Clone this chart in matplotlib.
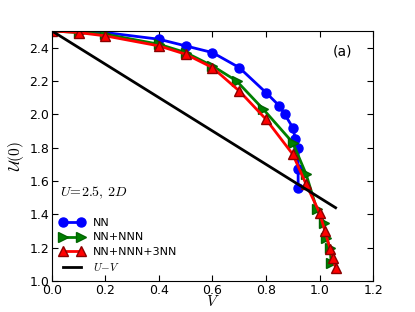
import numpy as np
import matplotlib
matplotlib.use("Agg")
import matplotlib.pyplot as plt

plt.rcParams['mathtext.fontset'] = 'cm'
plt.rcParams['xtick.direction'] = 'in'
plt.rcParams['ytick.direction'] = 'in'
plt.rcParams['xtick.top'] = True
plt.rcParams['ytick.right'] = True

# NN
v_nn = [0.0, 0.1, 0.2, 0.4, 0.5, 0.6, 0.7, 0.8, 0.85, 0.87, 0.90, 0.91, 0.92, 0.92, 0.92]
u_nn = [2.5, 2.5, 2.49, 2.45, 2.41, 2.37, 2.28, 2.13, 2.05, 2.0, 1.92, 1.85, 1.80, 1.67, 1.56]

# NN+NNN
v_nnn = [0.0, 0.1, 0.2, 0.4, 0.5, 0.6, 0.69, 0.79, 0.90, 0.95, 0.99, 1.017, 1.024, 1.04, 1.043]
u_nnn = [2.5, 2.49, 2.48, 2.42, 2.37, 2.29, 2.2, 2.03, 1.83, 1.64, 1.43, 1.35, 1.26, 1.20, 1.11]

# NN+NNN+3NN
v_3nn = [0.0, 0.1, 0.2, 0.4, 0.5, 0.6, 0.7, 0.8, 0.9, 0.95, 1.0, 1.02, 1.04, 1.05, 1.06]
u_3nn = [2.5, 2.49, 2.47, 2.41, 2.36, 2.28, 2.14, 1.97, 1.76, 1.58, 1.41, 1.30, 1.19, 1.14, 1.08]

U = 2.5
v_line = np.array([0.0, 1.06])

fig = plt.figure(figsize=(4.15, 3.12), dpi=100)
ax = fig.add_axes([0.125, 0.099, 0.774, 0.802])

ax.plot(v_nn, u_nn, 'o-', color='blue', lw=2, ms=6.5, mec='blue', label='NN')
ax.plot(v_nnn, u_nnn, '>-', color='green', lw=2, ms=6.5, mec='darkgreen', label='NN+NNN')
ax.plot(v_3nn, u_3nn, '^-', color='red', lw=2, ms=6.5, mec='darkred', label='NN+NNN+3NN')
ax.plot(v_line, U - v_line, '-', color='black', lw=2, label=r'$U\!-\!V$')

ax.set_xlim(0, 1.2)
ax.set_ylim(1.0, 2.5)
ax.set_xticks(np.arange(0, 1.21, 0.2))
ax.set_yticks(np.arange(1.0, 2.41, 0.2))
ax.tick_params(labelsize=9, length=4, pad=2)
ax.set_xlabel(r'$V$', fontsize=11, labelpad=-2)
ax.set_ylabel(r'$\mathcal{U}(0)$', fontsize=11, labelpad=2)

ax.text(0.03, 1.53, r'$U\!=\!2.5,\,2D$', fontsize=10, va='center', ha='left')
ax.text(1.084, 2.375, '(a)', fontsize=10, va='center', ha='center')

ax.legend(loc='lower left', frameon=False, numpoints=2, fontsize=8,
          handlelength=2.2, borderaxespad=0.3, labelspacing=0.4)

fig.savefig('out.png', dpi=100)
